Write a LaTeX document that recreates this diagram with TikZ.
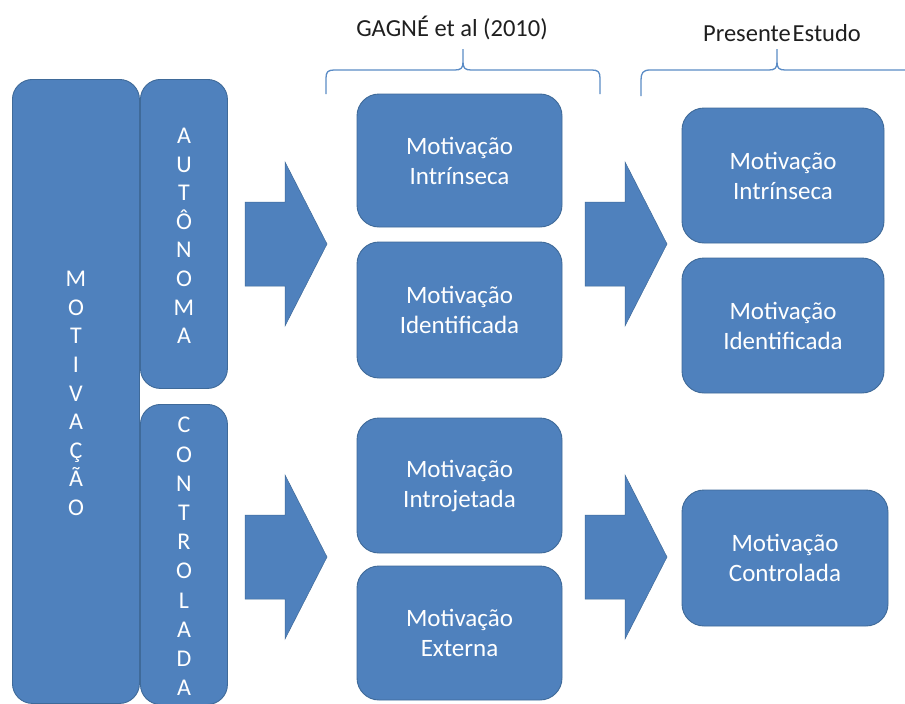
\documentclass[tikz,border=0pt]{standalone}
\usepackage{fontspec}
\setmainfont{Carlito}
\definecolor{boxfill}{HTML}{4F81BD}
\definecolor{boxedge}{HTML}{3F6A99}
\definecolor{bracecol}{HTML}{5B8CC6}
\definecolor{labeltext}{HTML}{1F1F1F}
\tikzset{
  card/.style={draw=boxedge, line width=0.9pt, fill=boxfill, rounded corners=22pt,
    text=white, align=center, font=\fontsize{25}{30}\selectfont, inner sep=0pt},
  band/.style={draw=boxedge, line width=0.9pt, fill=boxfill, rounded corners=20pt,
    inner sep=0pt},
  lettering/.style={text=white, align=center, inner sep=0pt},
  fatarrow/.style={fill=boxfill, draw=boxedge, line width=0.5pt},
  bracket/.style={draw=bracecol, line width=1.3pt},
  heading/.style={text=labeltext, font=\fontsize{24.5}{28}\selectfont, inner sep=0pt},
}
\begin{document}
\begin{tikzpicture}[x=1pt, y=-1pt]
\useasboundingbox[fill=white] (0,0) rectangle (905,704);

% outer category columns
\node[band, minimum width=127pt, minimum height=624pt, anchor=north west] (motiv) at (12,79) {};
\node[lettering, font=\fontsize{24}{28.6}\selectfont] (motivtxt) at ([yshift=-2pt]motiv.center)
  {M\\O\\T\\I\\V\\A\\Ç\\Ã\\O};
\node[band, minimum width=87pt, minimum height=309pt, anchor=north west] (auto) at (140,79) {};
\node[lettering, font=\fontsize{24}{28.6}\selectfont] (autotxt) at ([yshift=-2pt]auto.center)
  {A\\U\\T\\Ô\\N\\O\\M\\A};
\node[band, minimum width=87pt, minimum height=300pt, anchor=north west] (ctrl) at (140,404) {};
\node[lettering, font=\fontsize{24}{29.2}\selectfont] (ctrltxt) at ([yshift=-2pt]ctrl.center)
  {C\\O\\N\\T\\R\\O\\L\\A\\D\\A};

% middle column
\node[card, minimum width=205pt, minimum height=133pt] (m1) at (459.5,160.5) {Motivação\\Intrínseca};
\node[card, minimum width=205pt, minimum height=136pt] (m2) at (459.5,310) {Motivação\\Identificada};
\node[card, minimum width=205pt, minimum height=135pt] (m3) at (459.5,485.5) {Motivação\\Introjetada};
\node[card, minimum width=205pt, minimum height=134pt] (m4) at (459.5,633) {Motivação\\Externa};

% right column
\node[card, minimum width=202pt, minimum height=135pt] (r1) at (783,175.5) {Motivação\\Intrínseca};
\node[card, minimum width=202pt, minimum height=135pt] (r2) at (783,325.5) {Motivação\\Identificada};
\node[card, minimum width=206pt, minimum height=136pt] (r3) at (785,558) {Motivação\\Controlada};

% block arrows
\foreach \ax/\ay in {245/244, 585/244, 245/557, 585/557}{
  \filldraw[fatarrow] (\ax,\ay-42) -- (\ax+40,\ay-42) -- (\ax+40,\ay-82)
    -- (\ax+82,\ay) -- (\ax+40,\ay+82) -- (\ax+40,\ay+42) -- (\ax,\ay+42) -- cycle;
}

% braces and headings
\draw[bracket] (326,94) -- (326,78) .. controls (326,72) and (328,70) .. (334,70)
  -- (455,70) .. controls (461,70) and (463,68) .. (463,62) -- (463,49)
  (463,62) .. controls (463,68) and (465,70) .. (471,70)
  -- (592,70) .. controls (598,70) and (600,72) .. (600,78) -- (600,94);
\node[heading] (gagne) at (452,28) {GAGNÉ et al (2010)};

\draw[bracket] (641,96) -- (641,80) .. controls (641,73) and (643,70) .. (650,70)
  -- (769,70) .. controls (775,70) and (777,68) .. (777,62) -- (777,49)
  (777,62) .. controls (777,68) and (779,70) .. (785,70) -- (905,70);
\node[heading] (presente) at (782,33) {Presente\hspace{0.08em}Estudo};
\end{tikzpicture}
\end{document}
